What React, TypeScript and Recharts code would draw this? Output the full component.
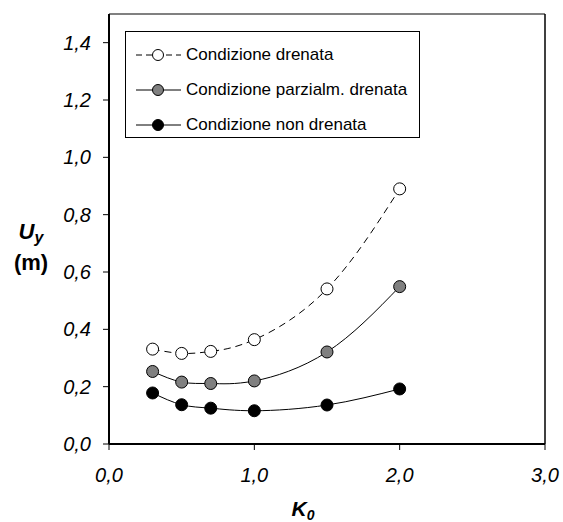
import { LineChart, Line, XAxis, YAxis, ReferenceLine } from 'recharts';

const k0 = [0.3, 0.5, 0.7, 1.0, 1.5, 2.0];
const drenata = [0.331, 0.316, 0.323, 0.364, 0.541, 0.89];
const parziale = [0.253, 0.216, 0.211, 0.22, 0.321, 0.549];
const nonDrenata = [0.178, 0.137, 0.125, 0.116, 0.136, 0.192];

const xTicks = [0, 1, 2, 3];
const yTicks = [0, 0.2, 0.4, 0.6, 0.8, 1.0, 1.2, 1.4];

const data = k0.map((k, i) => ({
  k0: k,
  drenata: drenata[i],
  parziale: parziale[i],
  nonDrenata: nonDrenata[i],
}));

const series = [
  { key: 'drenata', name: 'Condizione drenata', fill: '#ffffff', dash: '7 5' },
  { key: 'parziale', name: 'Condizione parzialm. drenata', fill: '#808080', dash: undefined },
  { key: 'nonDrenata', name: 'Condizione non drenata', fill: '#000000', dash: undefined },
];

const font = '"Liberation Sans", Arial, sans-serif';
const fmt = (v: number) => v.toFixed(1).replace('.', ',');

// legend drawn as a plain box over the plot, so it takes no room from the chart
const LegendBox = () => (
  <div
    style={{
      position: 'absolute',
      left: 125,
      top: 31,
      border: '1px solid #000',
      width: 295,
      height: 107,
      boxSizing: 'border-box',
      background: '#fff',
      fontFamily: font,
      fontSize: 17,
      paddingTop: 5,
    }}
  >
    {series.map((s) => (
      <div key={s.key} style={{ display: 'flex', alignItems: 'center', height: 35 }}>
        <svg width={60} height={16} style={{ marginLeft: 10 }}>
          <line x1={0} y1={8} x2={45} y2={8} stroke="#000" strokeDasharray={s.dash ? '6 4' : undefined} />
          <circle cx={22} cy={8} r={5.5} fill={s.fill} stroke="#000" />
        </svg>
        <span style={{ marginLeft: -10 }}>{s.name}</span>
      </div>
    ))}
  </div>
);

export default function App() {
  return (
    <div style={{ position: 'absolute', left: 0, top: 0, width: 563, height: 522, background: '#fff' }}>
      <LineChart width={563} height={522} data={data} margin={{ top: 14, right: 18, bottom: 0, left: 0 }}>
        <XAxis
          dataKey="k0"
          type="number"
          domain={[0, 3]}
          ticks={xTicks}
          tickFormatter={fmt}
          height={78}
          stroke="#000"
          axisLine={{ strokeWidth: 2 }}
          tickSize={6}
          tickMargin={18}
          tick={{ fill: '#000', fontSize: 20, fontStyle: 'italic', fontFamily: font }}
        />
        <YAxis
          type="number"
          domain={[0, 1.5]}
          ticks={yTicks}
          tickFormatter={fmt}
          width={109}
          stroke="#000"
          axisLine={{ strokeWidth: 2 }}
          tickSize={6}
          tickMargin={12}
          tick={{ fill: '#000', fontSize: 20, fontStyle: 'italic', fontFamily: font }}
        />
        <ReferenceLine y={1.5} stroke="#808080" strokeWidth={2} />
        <ReferenceLine x={3} stroke="#000" strokeWidth={1.5} />
        {series.map((s) => (
          <Line
            key={s.key}
            dataKey={s.key}
            name={s.name}
            type="natural"
            stroke="#000"
            strokeWidth={1}
            strokeDasharray={s.dash}
            dot={{ r: 6, fill: s.fill, stroke: '#000', strokeWidth: 1, strokeDasharray: 'none' }}
            activeDot={false}
            isAnimationActive={false}
          />
        ))}
      </LineChart>
      <LegendBox />
      <div
        style={{
          position: 'absolute',
          left: 8,
          top: 219,
          width: 46,
          textAlign: 'center',
          fontFamily: font,
          fontWeight: 'bold',
          fontSize: 22,
          lineHeight: '25px',
        }}
      >
        <i>
          U<sub style={{ fontSize: 16, verticalAlign: '-4px' }}>y</sub>
        </i>
        <br />
        (m)
      </div>
      <div
        style={{
          position: 'absolute',
          left: 283,
          top: 497,
          width: 40,
          textAlign: 'center',
          fontFamily: font,
          fontWeight: 'bold',
          fontStyle: 'italic',
          fontSize: 21,
        }}
      >
        K<sub style={{ fontSize: 14, verticalAlign: '-4px' }}>0</sub>
      </div>
    </div>
  );
}
